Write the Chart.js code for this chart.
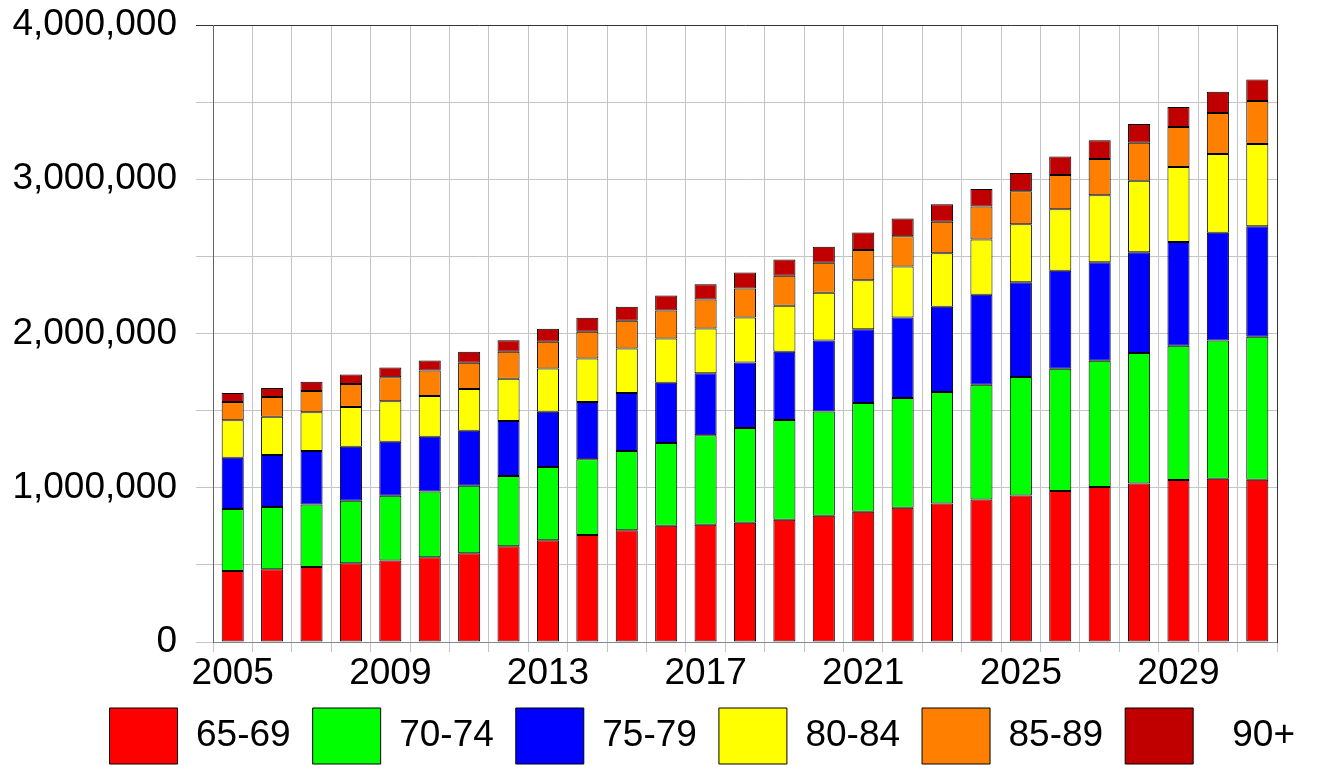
<!DOCTYPE html>
<html>
<head>
<meta charset="utf-8">
<script src="https://cdn.jsdelivr.net/npm/chart.js@4/dist/chart.umd.min.js"></script>
<style>
  html, body { margin: 0; padding: 0; background: #fff; }
  #wrap { width: 1317px; height: 765px; position: relative; }
</style>
</head>
<body>
<div id="wrap"><canvas id="myChart"></canvas></div>
<script>
const years = ['2005','2006','2007','2008','2009','2010','2011','2012','2013','2014',
  '2015','2016','2017','2018','2019','2020','2021','2022','2023','2024',
  '2025','2026','2027','2028','2029','2030','2031'];

// population by age group
const age65 = [461000,472000,487000,511000,528000,550000,576000,621000,660000,693000,
  725000,753000,760000,773000,792000,818000,844000,870000,898000,924000,
  950000,979000,1005000,1028000,1050000,1059000,1052000];
const age70 = [401000,403000,405000,405000,420000,426000,437000,455000,474000,491000,
  513000,537000,580000,615000,648000,677000,706000,712000,723000,743000,
  768000,792000,819000,846000,871000,896000,927000];
const age75 = [333000,337000,346000,350000,351000,355000,357000,357000,358000,372000,
  377000,390000,402000,424000,441000,460000,478000,522000,552000,584000,
  614000,636000,638000,652000,672000,698000,717000];
const age80 = [242000,249000,251000,258000,261000,264000,271000,273000,281000,282000,
  288000,288000,290000,292000,299000,309000,318000,331000,348000,359000,
  376000,398000,435000,464000,486000,510000,532000];
const age85 = [119000,128000,139000,149000,156000,165000,169000,175000,173000,173000,
  179000,181000,189000,188000,195000,195000,195000,195000,204000,213000,
  215000,222000,235000,246000,260000,267000,279000];
const age90 = [59000,58000,60000,61000,63000,65000,71000,76000,84000,91000,
  91000,98000,99000,104000,104000,104000,113000,115000,113000,114000,
  117000,121000,121000,122000,130000,138000,140000];

const groupNames = ['65-69','70-74','75-79','80-84','85-89','90+'];
const groupColors = ['#ff0000','#00ff00','#0000ff','#ffff00','#ff8000','#c00000'];
const groupData = [age65, age70, age75, age80, age85, age90];

const font = { family: '"Liberation Sans", Arial, sans-serif', size: 37 };
const gridGray = '#c4c4c4';

const datasets = groupNames.map((name, i) => ({
  label: name,
  data: groupData[i],
  backgroundColor: groupColors[i],
  borderColor: '#000',
  borderWidth: 1,
  borderSkipped: false,
  barPercentage: 0.56,
  categoryPercentage: 1
}));

const ctx = document.getElementById('myChart').getContext('2d');
new Chart(ctx, {
  type: 'bar',
  data: { labels: years, datasets: datasets },
  options: {
    responsive: true,
    maintainAspectRatio: false,
    animation: false,
    layout: { padding: { top: 25, left: 0, right: 0, bottom: -9 } },
    scales: {
      x: {
        stacked: true,
        grid: { color: gridGray, tickLength: 10, offset: true },
        border: { color: '#888' },
        ticks: {
          autoSkip: false, maxRotation: 0, padding: 0, color: '#000', font: font,
          callback: (v, i) => (i % 4 === 0 ? years[i] : '')
        },
        afterFit: (s) => { s.height = 44; s.paddingLeft = 0; s.paddingRight = 0; }
      },
      y: {
        stacked: true,
        min: 0, max: 4000000,
        grid: {
          tickLength: 17,
          color: (c) => (c.tick && c.tick.value === 4000000 ? '#333' : gridGray)
        },
        border: { color: '#666' },
        ticks: {
          stepSize: 500000, padding: 19, color: '#000', font: font,
          callback: (v) => (v % 1000000 === 0 ? v.toLocaleString('en-US') : '')
        },
        afterFit: (s) => { s.width = 213; s.paddingTop = 0; s.paddingBottom = 0; }
      },
      yRight: {
        position: 'right',
        grid: { display: false },
        border: { color: '#333' },
        ticks: { display: false },
        afterFit: (s) => { s.width = 40; s.paddingTop = 0; s.paddingBottom = 0; }
      }
    },
    plugins: {
      tooltip: { enabled: false },
      legend: {
        position: 'bottom',
        align: 'end',
        labels: {
          boxWidth: 68, boxHeight: 56, padding: 22, color: '#000', font: font,
          generateLabels(chart) {
            const items = Chart.defaults.plugins.legend.labels.generateLabels(chart);
            items.forEach(it => { if (it.text === '90+') it.text = '  90+'; });
            return items;
          }
        }
      }
    }
  }
});
</script>
</body>
</html>
